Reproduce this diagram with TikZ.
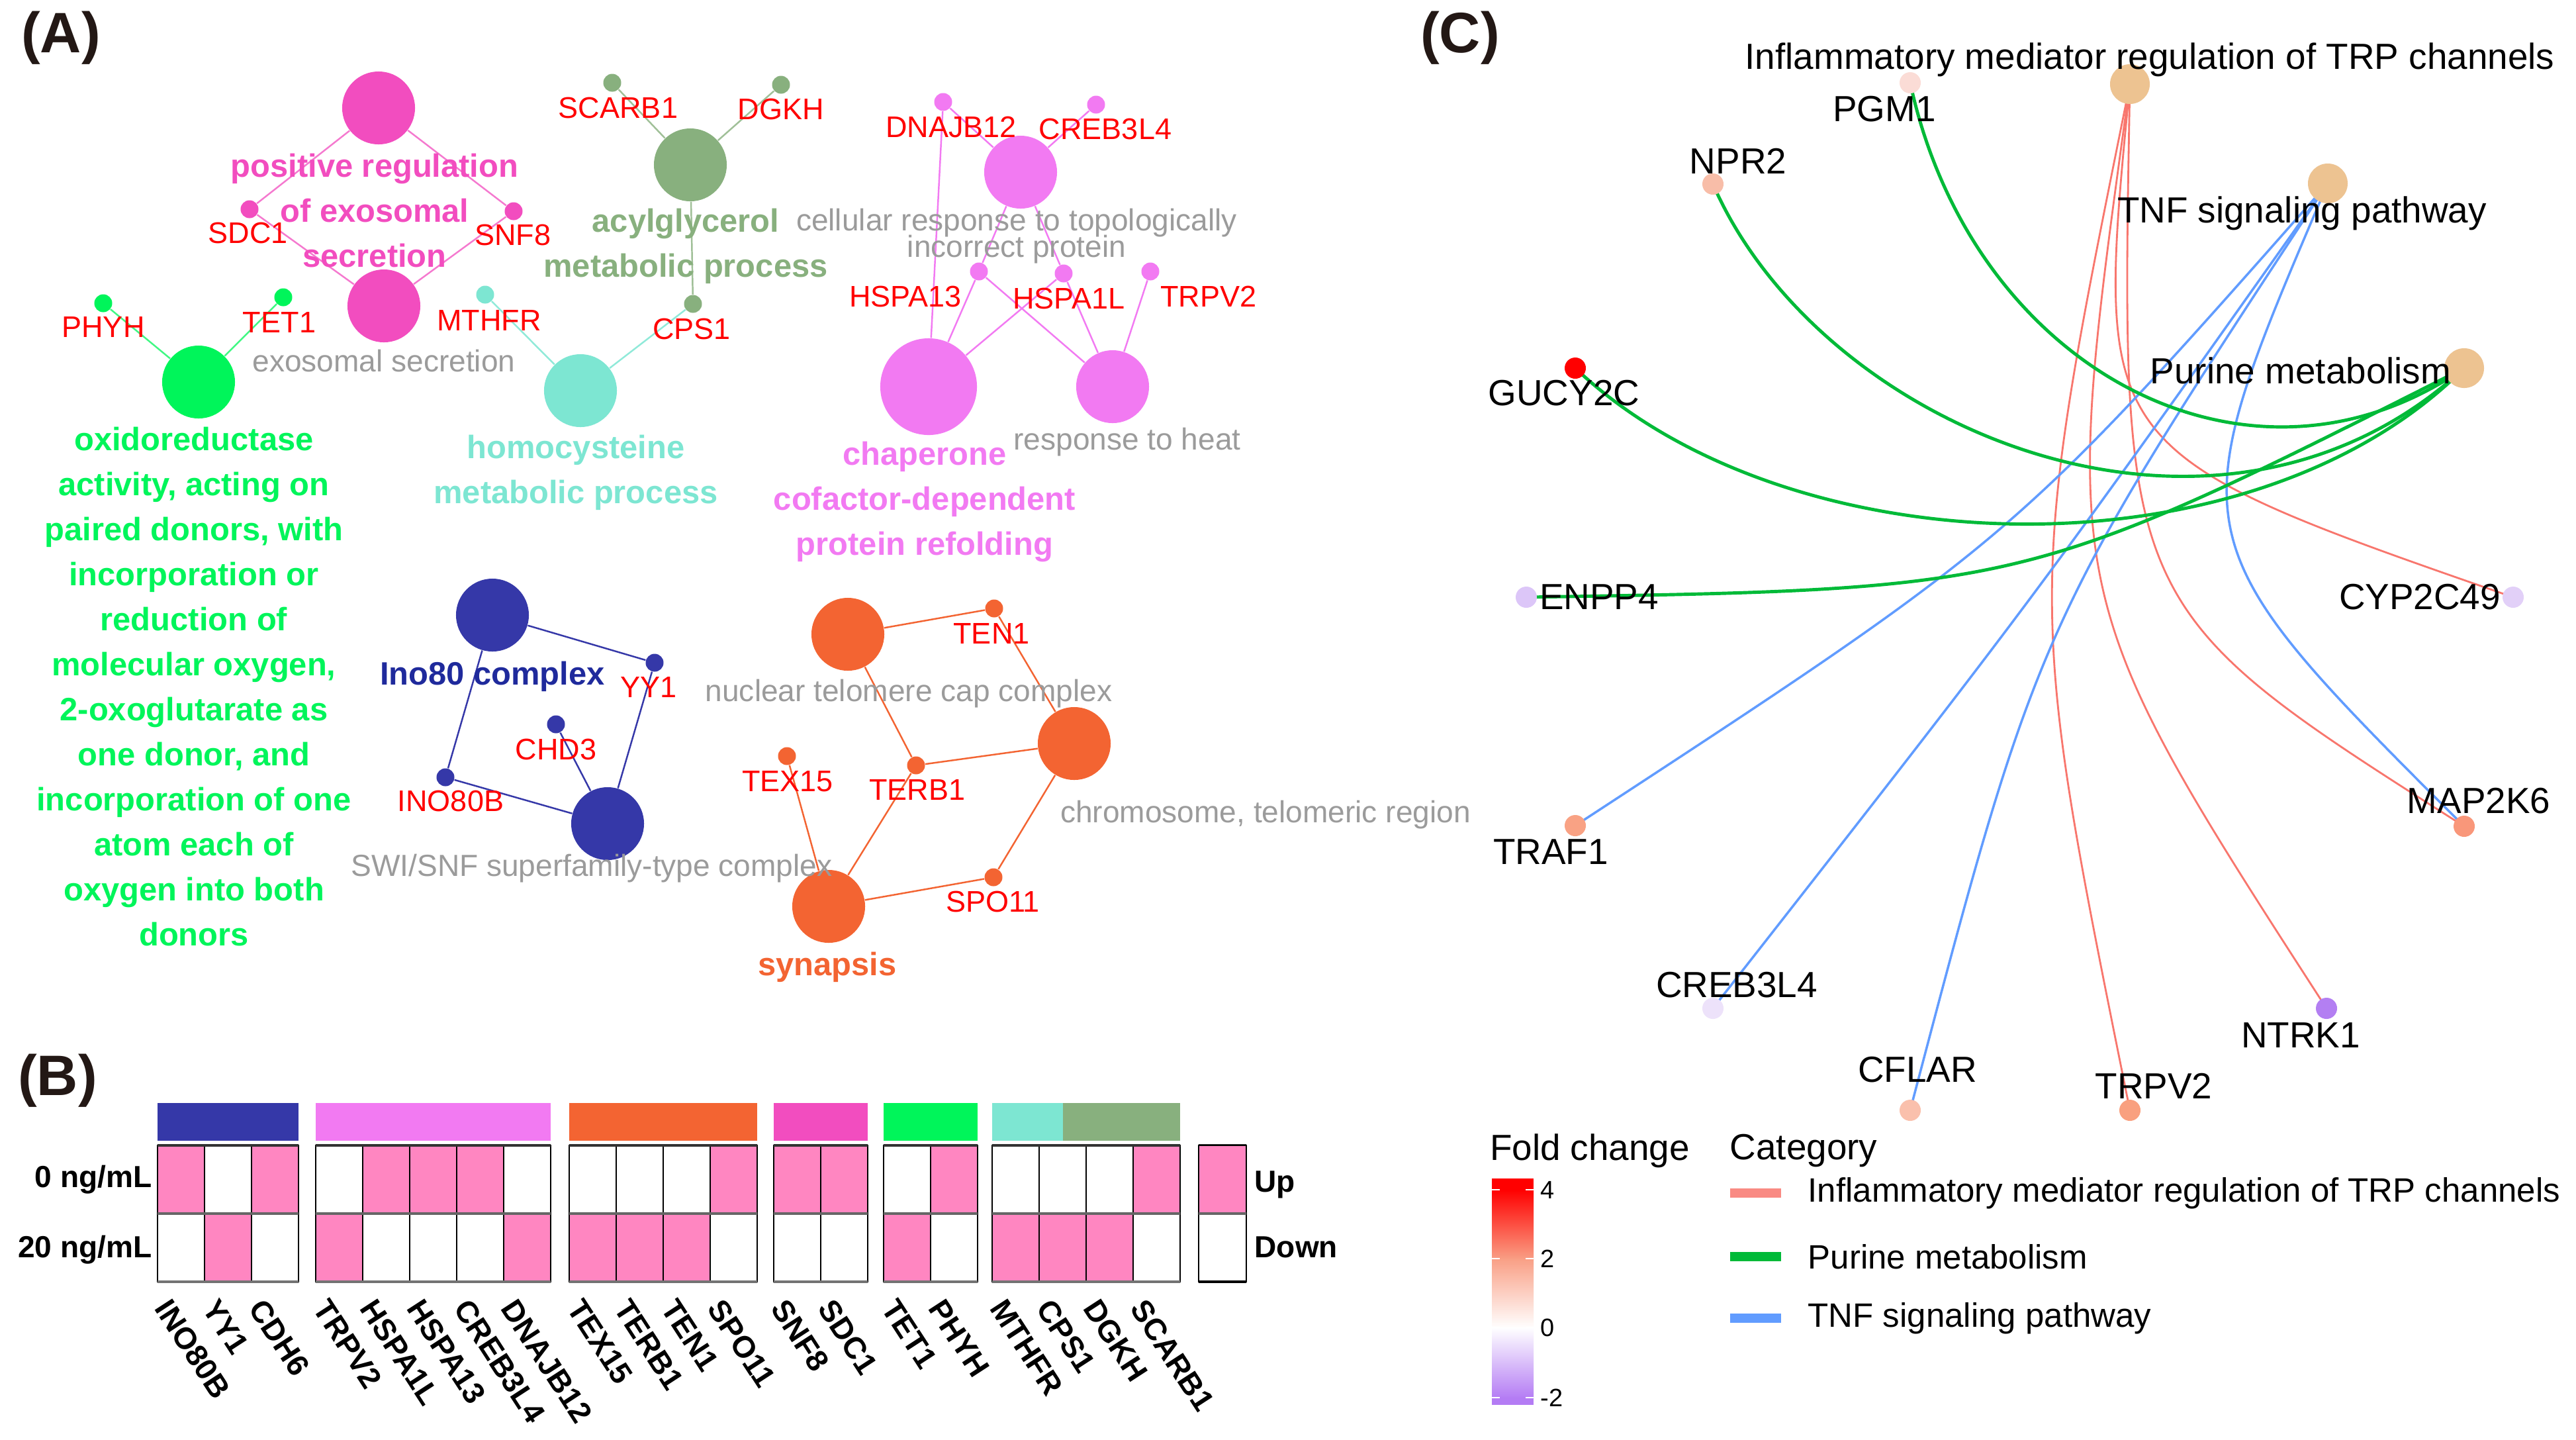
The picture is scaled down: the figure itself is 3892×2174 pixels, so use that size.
\documentclass[tikz,border=0pt]{standalone}
\usepackage{fontspec}
\setmainfont{Liberation Sans}
\pgfdeclarelayer{back}
\pgfdeclarelayer{edges}
\pgfsetlayers{back,edges,main}
\definecolor{cPink}{HTML}{F24DBF}
\definecolor{cSage}{HTML}{88B07E}
\definecolor{cTeal}{HTML}{7DE6D2}
\definecolor{cGreen}{HTML}{00F55A}
\definecolor{cViolet}{HTML}{F27AF2}
\definecolor{cNavy}{HTML}{3538A8}
\definecolor{cNavyTxt}{HTML}{1F2A9C}
\definecolor{cOrange}{HTML}{F36432}
\definecolor{cGray}{HTML}{9B9B9B}
\definecolor{cRed}{HTML}{FF0000}
\definecolor{cHeat}{HTML}{FF86C1}
\definecolor{cLbl}{HTML}{231815}
\definecolor{eRed}{HTML}{F8766D}
\definecolor{eGreen}{HTML}{00BA38}
\definecolor{eBlue}{HTML}{619CFF}
\definecolor{cTan}{HTML}{EDC391}
\definecolor{fcRed}{HTML}{FF0000}
\definecolor{fcSalmon}{HTML}{F99F85}
\definecolor{fcPurple}{HTML}{B47CF4}
\definecolor{gPGM}{HTML}{FBDCD6}
\definecolor{gNPR}{HTML}{F8BDA8}
\definecolor{gGUC}{HTML}{FF0000}
\definecolor{gENP}{HTML}{DCC6F8}
\definecolor{gCYP}{HTML}{E2D0F8}
\definecolor{gTRA}{HTML}{F9A284}
\definecolor{gMAP}{HTML}{F9977A}
\definecolor{gCRE}{HTML}{EDE2FA}
\definecolor{gCFL}{HTML}{FAC0AC}
\definecolor{gTRP}{HTML}{F9A07F}
\definecolor{gNTR}{HTML}{B37FF2}
\newcommand{\fsPanel}{\fontsize{24.5pt}{28pt}\selectfont\bfseries}
\newcommand{\fsTerm}{\fontsize{13.9pt}{19.35pt}\selectfont\bfseries}
\newcommand{\fsGene}{\fontsize{12.8pt}{15pt}\selectfont}
\newcommand{\fsGray}{\fontsize{13.1pt}{15pt}\selectfont}
\newcommand{\fsB}{\fontsize{13.1pt}{15pt}\selectfont\bfseries}
\newcommand{\fsC}{\fontsize{15.6pt}{18pt}\selectfont}
\newcommand{\fsLeg}{\fontsize{14.5pt}{17pt}\selectfont}
\newcommand{\fsTick}{\fontsize{10.8pt}{12pt}\selectfont}
\begin{document}
\begin{tikzpicture}[x=0.01cm,y=-0.01cm,
  big/.style={circle,inner sep=0pt,minimum size=1.1cm,fill=#1},
  adot/.style={circle,inner sep=0pt,minimum size=0.27cm,fill=#1},
  aedge/.style={line width=0.7pt,draw=#1},
  term/.style={font=\fsTerm,align=center,inner sep=0pt,text=#1},
  gene/.style={font=\fsGene,text=cRed,inner sep=0pt},
  grayterm/.style={font=\fsGray,text=cGray,inner sep=0pt},
  blab/.style={font=\fsB,text=black,inner sep=0pt},
  hcell/.style={draw=black,line width=0.5pt},
  ccat/.style={circle,inner sep=0pt,minimum size=0.6cm,fill=cTan},
  cdot/.style={circle,inner sep=0pt,minimum size=0.32cm,fill=#1},
  clab/.style={font=\fsC,text=black,inner sep=0pt},
  legl/.style={font=\fsLeg,text=black,inner sep=0pt,anchor=west},
  tickl/.style={font=\fsTick,text=black,inner sep=0pt,anchor=west},
  redge/.style={draw=eRed,line width=0.8pt},
  gedge/.style={draw=eGreen,line width=1.4pt},
  bedge/.style={draw=eBlue,line width=1pt},
  panel/.style={font=\fsPanel,text=cLbl,inner sep=0pt}
]
\begin{pgfonlayer}{back}
\fill[white] (0,0) rectangle (3892,2174);
\end{pgfonlayer}
\useasboundingbox (0,0) rectangle (3892,2174);

% ---------------- panel letters
\node[panel] (pA) at (92,57) {(A)};
\node[panel] (pB) at (87,1632) {(B)};
\node[panel] (pC) at (2206,57) {(C)};

% ---------------- Panel A nodes
\node[big=cPink] (posreg) at (572,163) {};
\node[big=cPink] (exosec) at (580,462) {};
\node[adot=cPink] (dSDC1) at (377,316) {};
\node[adot=cPink] (dSNF8) at (776,319) {};
\node[big=cSage] (acyl) at (1043,249) {};
\node[adot=cSage] (dSCARB1) at (925,125) {};
\node[adot=cSage] (dDGKH) at (1180,128) {};
\node[adot=cSage] (dCPS1) at (1047,459) {};
\node[big=cTeal] (homo) at (877,590) {};
\node[adot=cTeal] (dMTHFR) at (733,445) {};
\node[big=cGreen] (oxido) at (300,577) {};
\node[adot=cGreen] (dPHYH) at (156,458) {};
\node[adot=cGreen] (dTET1) at (428,449) {};
\node[big=cViolet] (cellresp) at (1542,260) {};
\node[big=cViolet,minimum size=1.46cm] (chap) at (1403,584) {};
\node[big=cViolet] (heat) at (1681,584) {};
\node[adot=cViolet] (dDNAJB12) at (1425,154) {};
\node[adot=cViolet] (dCREB3L4) at (1656,158) {};
\node[adot=cViolet] (dHSPA13) at (1479,410) {};
\node[adot=cViolet] (dHSPA1L) at (1607,413) {};
\node[adot=cViolet] (dTRPV2) at (1738,410) {};
\node[big=cNavy] (ino80) at (744,929) {};
\node[big=cNavy] (swisnf) at (918,1244) {};
\node[adot=cNavy] (dYY1) at (989,1001) {};
\node[adot=cNavy] (dCHD3) at (840,1094) {};
\node[adot=cNavy] (dINO80B) at (673,1174) {};
\node[big=cOrange] (nuctel) at (1281,958) {};
\node[big=cOrange] (chrom) at (1623,1123) {};
\node[big=cOrange] (synap) at (1252,1369) {};
\node[adot=cOrange] (dTEN1) at (1502,919) {};
\node[adot=cOrange] (dTERB1) at (1384,1156) {};
\node[adot=cOrange] (dTEX15) at (1189,1142) {};
\node[adot=cOrange] (dSPO11) at (1501,1325) {};

\begin{pgfonlayer}{edges}
\draw[aedge=cPink!75] (posreg) -- (dSDC1);
\draw[aedge=cPink!75] (posreg) -- (dSNF8);
\draw[aedge=cPink!75] (dSDC1) -- (exosec);
\draw[aedge=cPink!75] (dSNF8) -- (exosec);
\draw[aedge=cSage!80] (acyl) -- (dSCARB1);
\draw[aedge=cSage!80] (acyl) -- (dDGKH);
\draw[aedge=cSage!80] (acyl) -- (dCPS1);
\draw[aedge=cTeal!85] (homo) -- (dMTHFR);
\draw[aedge=cTeal!85] (homo) -- (dCPS1);
\draw[aedge=cGreen!75] (oxido) -- (dPHYH);
\draw[aedge=cGreen!75] (oxido) -- (dTET1);
\draw[aedge=cViolet] (dDNAJB12) -- (cellresp);
\draw[aedge=cViolet] (dCREB3L4) -- (cellresp);
\draw[aedge=cViolet] (dDNAJB12) -- (chap);
\draw[aedge=cViolet] (cellresp) -- (dHSPA13);
\draw[aedge=cViolet] (cellresp) -- (dHSPA1L);
\draw[aedge=cViolet] (dHSPA13) -- (chap);
\draw[aedge=cViolet] (dHSPA13) -- (heat);
\draw[aedge=cViolet] (dHSPA1L) -- (chap);
\draw[aedge=cViolet] (dHSPA1L) -- (heat);
\draw[aedge=cViolet] (dTRPV2) -- (heat);
\draw[aedge=cNavy] (ino80) -- (dYY1);
\draw[aedge=cNavy] (ino80) -- (dINO80B);
\draw[aedge=cNavy] (dYY1) -- (swisnf);
\draw[aedge=cNavy] (dINO80B) -- (swisnf);
\draw[aedge=cNavy] (dCHD3) -- (swisnf);
\draw[aedge=cOrange] (nuctel) -- (dTEN1);
\draw[aedge=cOrange] (nuctel) -- (dTERB1);
\draw[aedge=cOrange] (dTEN1) -- (chrom);
\draw[aedge=cOrange] (dTERB1) -- (chrom);
\draw[aedge=cOrange] (chrom) -- (dSPO11);
\draw[aedge=cOrange] (dSPO11) -- (synap);
\draw[aedge=cOrange] (dTEX15) -- (synap);
\draw[aedge=cOrange] (dTERB1) -- (synap);
\end{pgfonlayer}

% Panel A labels
\node[term=cPink] (tPosreg) at (566,318) {positive regulation\\of exosomal\\secretion};
\node[term=cSage] (tAcyl) at (1036,372) {acylglycerol\\metabolic process};
\node[term=cTeal] (tHomo) at (870,714) {homocysteine\\metabolic process};
\node[term=cGreen] (tOxido) at (293,1037) {oxidoreductase\\activity, acting on\\paired donors, with\\incorporation or\\reduction of\\molecular oxygen,\\2-oxoglutarate as\\one donor, and\\incorporation of one\\atom each of\\oxygen into both\\donors};
\node[term=cViolet] (tChap) at (1397,758) {chaperone\\cofactor-dependent\\protein refolding};
\node[term=cNavyTxt] (tIno) at (744,1022) {Ino80 complex};
\node[term=cOrange] (tSyn) at (1250,1461) {synapsis};

\node[grayterm] (gExo) at (580,545) {exosomal secretion};
\node[grayterm,align=center,font={\fsGray\lineskiplimit=-20pt\baselineskip=11.4pt}] (gCell) at (1536,357) {cellular response to topologically\\incorrect protein};
\node[grayterm] (gHeat) at (1703,668) {response to heat};
\node[grayterm] (gSwi) at (894,1312) {SWI/SNF superfamily-type complex};
\node[grayterm] (gNuc) at (1373,1048) {nuclear telomere cap complex};
\node[grayterm] (gChrom) at (1912,1231) {chromosome, telomeric region};

\node[gene] (lSDC1) at (375,352) {SDC1};
\node[gene] (lSNF8) at (775,355) {SNF8};
\node[gene] (lSCARB1) at (934,163) {SCARB1};
\node[gene] (lDGKH) at (1180,165) {DGKH};
\node[gene] (lMTHFR) at (739,484) {MTHFR};
\node[gene] (lCPS1) at (1045,497) {CPS1};
\node[gene] (lPHYH) at (156,494) {PHYH};
\node[gene] (lTET1) at (422,487) {TET1};
\node[gene] (lDNAJB12) at (1437,192) {DNAJB12};
\node[gene] (lCREB3L4) at (1670,195) {CREB3L4};
\node[gene] (lHSPA13) at (1368,448) {HSPA13};
\node[gene] (lHSPA1L) at (1615,451) {HSPA1L};
\node[gene] (lTRPV2) at (1826,448) {TRPV2};
\node[gene] (lYY1) at (980,1038) {YY1};
\node[gene] (lCHD3) at (840,1132) {CHD3};
\node[gene] (lINO80B) at (681,1210) {INO80B};
\node[gene] (lTEN1) at (1498,957) {TEN1};
\node[gene] (lTERB1) at (1386,1193) {TERB1};
\node[gene] (lTEX15) at (1190,1180) {TEX15};
\node[gene] (lSPO11) at (1500,1362) {SPO11};

% ---------------- Panel B
\fill[cNavy] (238,1666) rectangle (451,1723);
\fill[cViolet] (477,1666) rectangle (832,1723);
\fill[cOrange] (860,1666) rectangle (1144,1723);
\fill[cPink] (1169,1666) rectangle (1311,1723);
\fill[cGreen] (1335,1666) rectangle (1477,1723);
\fill[cTeal] (1499,1666) rectangle (1606,1723);
\fill[cSage] (1606,1666) rectangle (1783,1723);

\foreach \x/\t/\g in {238/1/INO80B,309/0/YY1,380/1/CDH6,477/0/TRPV2,548/1/HSPA1L,619/1/HSPA13,690/1/CREB3L4,761/0/DNAJB12,860/0/TEX15,931/0/TERB1,1002/0/TEN1,1073/1/SPO11,1169/1/SNF8,1240/1/SDC1,1335/0/TET1,1406/1/PHYH,1499/0/MTHFR,1570/0/CPS1,1641/0/DGKH,1712/1/SCARB1}{
  \ifnum\t=1 \def\ctop{cHeat}\def\cbot{white}\else\def\ctop{white}\def\cbot{cHeat}\fi
  \draw[hcell,fill=\ctop] (\x,1730) rectangle ({\x+71},1833);
  \draw[hcell,fill=\cbot] (\x,1833) rectangle ({\x+71},1936);
  \node[blab,rotate=-57,anchor=north west] (b\g) at ({\x+22},1958) {\g};
}
\foreach \a/\b in {238/451,477/832,860/1144,1169/1311,1335/1477,1499/1783,1811/1883}{
  \draw[line width=1.2pt,black!55] (\a,1936) -- (\b,1936);
  \draw[line width=1.2pt,black!60] (\a,1833) -- (\b,1833);
  \draw[line width=1pt,black!80] (\a,1730) -- (\b,1730);
}
\draw[hcell,fill=cHeat] (1811,1730) rectangle (1883,1833);
\draw[hcell,fill=white] (1811,1833) rectangle (1883,1936);
\draw[line width=1.2pt,black!60] (1811,1833) -- (1883,1833);
\draw[line width=1.2pt,black] (1811,1936) -- (1883,1936);
\node[blab,anchor=west] (bUp) at (1895,1789) {Up};
\node[blab,anchor=west] (bDown) at (1895,1884) {Down};
\node[blab,anchor=east] (b0) at (230,1782) {0 ng/mL};
\node[blab,anchor=east] (b20) at (230,1888) {20 ng/mL};

% ---------------- Panel C
\node[ccat] (infl) at (3218,127) {};
\node[ccat] (tnf) at (3517,277) {};
\node[ccat] (pur) at (3723,556) {};
\node[cdot=gPGM] (pgm1) at (2886,125) {};
\node[cdot=gNPR] (npr2) at (2588,278) {};
\node[cdot=gGUC] (gucy) at (2380,556) {};
\node[cdot=gENP] (enpp4) at (2306,902) {};
\node[cdot=gCYP] (cyp) at (3797,902) {};
\node[cdot=gTRA] (traf1) at (2380,1247) {};
\node[cdot=gMAP] (map2k6) at (3723,1248) {};
\node[cdot=gCRE] (creb) at (2588,1523) {};
\node[cdot=gCFL] (cflar) at (2886,1677) {};
\node[cdot=gTRP] (trpvC) at (3218,1677) {};
\node[cdot=gNTR] (ntrk1) at (3515,1523) {};

\begin{pgfonlayer}{edges}
\draw[redge] (infl.center) .. controls (3061,902) .. (trpvC.center);
\draw[redge] (infl.center) .. controls (3111,898) .. (ntrk1.center);
\draw[redge] (infl.center) .. controls (3203,918) .. (map2k6.center);
\draw[redge] (infl.center) .. controls (3164,682) .. (cyp.center);
\draw[bedge] (tnf.center) .. controls (3044,813) .. (traf1.center);
\draw[bedge] (tnf.center) .. controls (3076,900) .. (creb.center);
\draw[bedge] (tnf.center) .. controls (3080,941) .. (cflar.center);
\draw[bedge] (tnf.center) .. controls (3287,813) .. (map2k6.center);
\draw[gedge] (pur.center) .. controls (3400,780) and (2980,560) .. (pgm1.center);
\draw[gedge] (pur.center) .. controls (3350,900) and (2750,650) .. (npr2.center);
\draw[gedge] (pur.center) .. controls (3400,880) and (2700,860) .. (gucy.center);
\draw[gedge] (pur.center) .. controls (3062,890) .. (enpp4.center);
\end{pgfonlayer}

\node[clab] (lInfl) at (3248,90) {Inflammatory mediator regulation of TRP channels};
\node[clab] (lTNF) at (3478,322) {TNF signaling pathway};
\node[clab] (lPur) at (3476,560) {Purine metabolism};
\node[clab] (lPGM1) at (2847,165) {PGM1};
\node[clab] (lNPR2) at (2626,243) {NPR2};
\node[clab] (lGUCY) at (2363,594) {GUCY2C};
\node[clab] (lENPP4) at (2416,902) {ENPP4};
\node[clab] (lCYP) at (3656,902) {CYP2C49};
\node[clab] (lTRAF1) at (2343,1287) {TRAF1};
\node[clab] (lMAP) at (3745,1210) {MAP2K6};
\node[clab] (lCREB) at (2624,1488) {CREB3L4};
\node[clab] (lNTRK1) at (3476,1564) {NTRK1};
\node[clab] (lCFLAR) at (2897,1616) {CFLAR};
\node[clab] (lTRPV2) at (3254,1640) {TRPV2};

% legend
\node[clab] (lFold) at (2402,1738) {Fold change};
\node[clab] (lCat) at (2725,1738) {Category};
\fill[fcRed] (2254,1780) rectangle (2317,1798);
\shade[top color=fcRed,bottom color=fcSalmon] (2254,1797) rectangle (2317,1902);
\shade[top color=fcSalmon,bottom color=white] (2254,1901) rectangle (2317,2006);
\shade[top color=white,bottom color=fcPurple] (2254,2005) rectangle (2317,2112);
\fill[fcPurple] (2254,2111) rectangle (2317,2122);
\foreach \v in {1797,1901,2005,2111}{
  \draw[white,line width=0.8pt] (2254,\v) -- (2266,\v);
  \draw[white,line width=0.8pt] (2305,\v) -- (2317,\v);
}
\node[tickl] (k4) at (2327,1797) {4};
\node[tickl] (k2) at (2327,1901) {2};
\node[tickl] (k0) at (2327,2005) {0};
\node[tickl] (km2) at (2327,2111) {-2};
\draw[eRed!85,line width=4pt] (2614,1802) -- (2691,1802);
\draw[eGreen,line width=4pt] (2614,1898) -- (2691,1898);
\draw[eBlue,line width=4pt] (2614,1991) -- (2691,1991);
\node[legl] (g1) at (2731,1802) {Inflammatory mediator regulation of TRP channels};
\node[legl] (g2) at (2731,1898) {Purine metabolism};
\node[legl] (g3) at (2731,1991) {TNF signaling pathway};
\end{tikzpicture}
\end{document}
